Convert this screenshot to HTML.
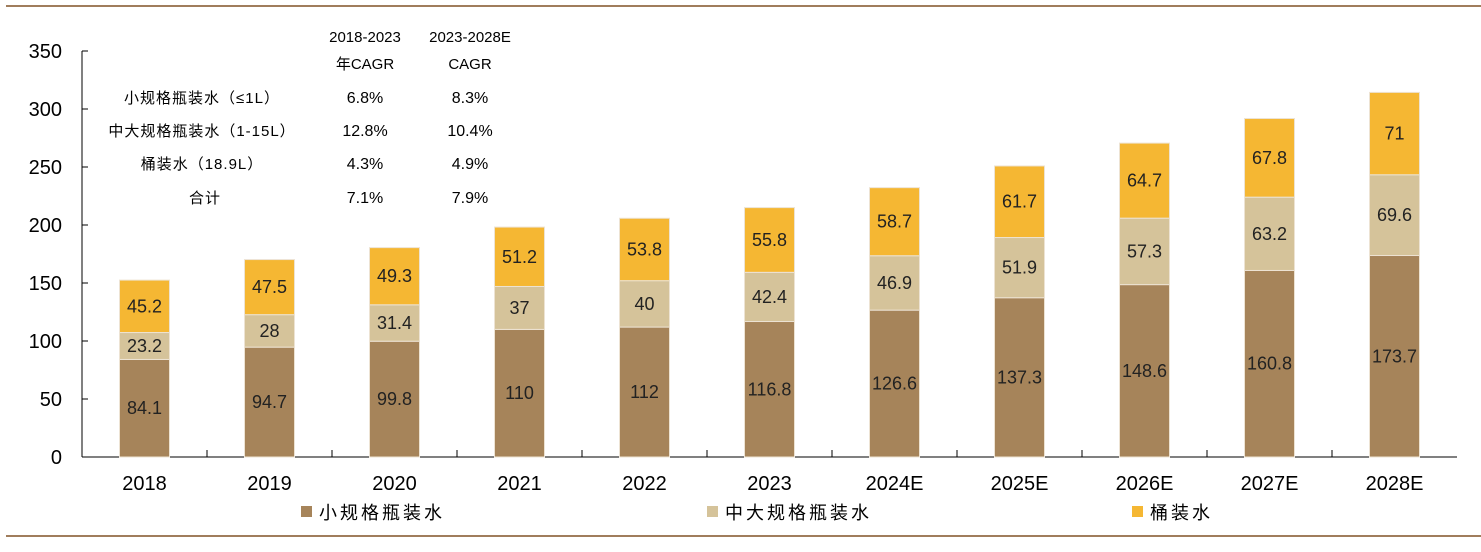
<!DOCTYPE html>
<html><head><meta charset="utf-8"><style>
body{margin:0;background:#fff;}
svg{display:block;font-family:"Liberation Sans","Noto Sans CJK SC",sans-serif;}
</style></head><body>
<svg id="chart" width="1481" height="552">
<line x1="6" y1="6" x2="1481" y2="6" stroke="#A07D5C" stroke-width="2"/>
<line x1="6" y1="536" x2="1481" y2="536" stroke="#A07D5C" stroke-width="2"/>
<g id="axes"></g><g id="bars"></g>
<g font-family="'Liberation Sans','WenQuanYi Zen Hei',sans-serif" font-size="16" fill="#000" text-anchor="middle">
<text x="365" y="42" font-size="15">2018-2023</text><text x="470" y="42" font-size="15">2023-2028E</text>
<text x="365" y="69" font-size="15">年CAGR</text><text x="470" y="69" font-size="15">CAGR</text>
<g font-size="15" letter-spacing="1">
<text x="202" y="103">小规格瓶装水（≤1L）</text>
<text x="202" y="136">中大规格瓶装水（1-15L）</text>
<text x="202" y="169">桶装水（18.9L）</text>
<text x="205" y="203">合计</text></g>
<text x="365" y="103">6.8%</text><text x="470" y="103">8.3%</text>
<text x="365" y="136">12.8%</text><text x="470" y="136">10.4%</text>
<text x="365" y="169">4.3%</text><text x="470" y="169">4.9%</text>
<text x="365" y="203">7.1%</text><text x="470" y="203">7.9%</text>
</g>
<g id="legend"></g>
</svg>
<script>
const categories=["2018","2019","2020","2021","2022","2023","2024E","2025E","2026E","2027E","2028E"];
const small=[84.1,94.7,99.8,110,112,116.8,126.6,137.3,148.6,160.8,173.7];
const mid=[23.2,28,31.4,37,40,42.4,46.9,51.9,57.3,63.2,69.6];
const barrel=[45.2,47.5,49.3,51.2,53.8,55.8,58.7,61.7,64.7,67.8,71];
const yTicks=[0,50,100,150,200,250,300,350];
const seriesNames=["小规格瓶装水","中大规格瓶装水","桶装水"];
const colors=["#A6845A","#D5C39A","#F5B733"];
const NS="http://www.w3.org/2000/svg";
const x0=82,band=125,y0=457,yMax=350,yTop=51,bw=50;
const y=v=>y0-(v/yMax)*(y0-yTop);
const xc=i=>x0+band*(i+0.5);
function mk(t,a,p){const e=document.createElementNS(NS,t);for(const k in a)e.setAttribute(k,a[k]);p.appendChild(e);return e;}
const ax=document.getElementById('axes');
let l=mk('line',{x1:x0,y1:y(yMax),x2:x0,y2:y0,stroke:'#000'},ax);


l=mk('line',{x1:x0,y1:y0,x2:x0+band*categories.length,y2:y0,stroke:'#000'},ax);


yTicks.forEach(v=>{
 mk('line',{x1:x0,y1:y(v),x2:x0+6,y2:y(v),stroke:'#000'},ax);
 const t=mk('text',{x:62,y:y(v)+7,'text-anchor':'end','font-size':20},ax);t.textContent=v;
 
 
});
categories.forEach((c,i)=>{
 if(i>0)mk('line',{x1:x0+band*i,y1:y0,x2:x0+band*i,y2:y0-7,stroke:'#000'},ax);
 const t=mk('text',{x:xc(i),y:490,'text-anchor':'middle','font-size':20},ax);t.textContent=c;
 
 
});
const bg=document.getElementById('bars');
const series=[small,mid,barrel];
categories.forEach((c,i)=>{
 let base=0;
 series.forEach((s,k)=>{
  const v=s[i];
  const r=mk('rect',{x:xc(i)-bw/2,y:y(base+v),width:bw,height:y(base)-y(base+v),fill:colors[k],stroke:'#EDE3D3','stroke-width':1},bg);
  
  
  const t=mk('text',{x:xc(i),y:(y(base)+y(base+v))/2+6,'text-anchor':'middle','font-size':18,fill:'#222'},bg);t.textContent=v;
  
  
  base+=v;
 });
});
const lg=document.getElementById('legend');
const lx=[301,707,1132];
seriesNames.forEach((n,k)=>{
 const g=mk('g',{},lg);
 
 
 mk('rect',{x:lx[k],y:506,width:11,height:11,fill:colors[k]},g);
 const t=mk('text',{x:lx[k]+18,y:519,'font-size':18,'letter-spacing':3,'font-family':"'WenQuanYi Zen Hei','Noto Sans CJK SC',sans-serif"},g);t.textContent=n;
});
</script>
</body></html>
